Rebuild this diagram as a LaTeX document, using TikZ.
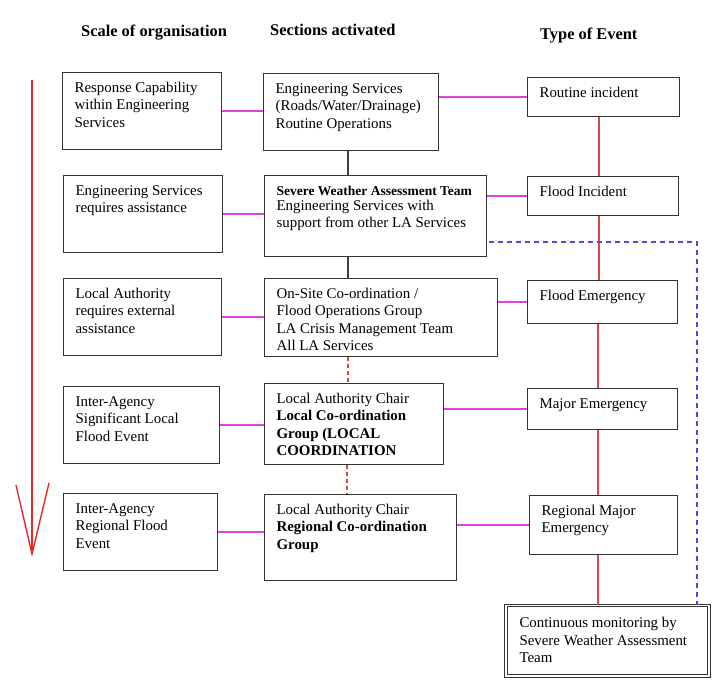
\documentclass[tikz,border=0pt]{standalone}
\usepackage{fontspec}
\setmainfont{Liberation Serif}
\begin{document}
% Box body: width #1, height #2, first baseline 19.5pt below the top, 12pt left padding
\newcommand\boxbody[3]{\parbox[c][#2][t]{#1}{\raggedright\leftskip=12pt\rule{0pt}{19.5pt}#3}}
\newcommand\bodyfont{\fontsize{14.9pt}{17.6pt}\selectfont}
\begin{tikzpicture}[x=1pt,y=-1pt,
  box/.style={draw=black!80,line width=1.2pt,rectangle,inner sep=0pt,anchor=north west,font=\bodyfont},
  dblbox/.style={draw=black!80,line width=1pt,double,double distance=1.5pt,rectangle,inner sep=0pt,anchor=north west,font=\bodyfont},
  heading/.style={anchor=base west,inner sep=0pt,font=\fontsize{16.4pt}{19pt}\selectfont\bfseries},
  magline/.style={draw={rgb,255:red,226;green,64;blue,226},line width=1.5pt},
  redline/.style={draw={rgb,255:red,222;green,70;blue,70},line width=1.5pt},
  reddash/.style={draw={rgb,255:red,222;green,70;blue,70},line width=1.5pt,dash pattern=on 4pt off 3pt},
  greyline/.style={draw=black!75,line width=1.5pt},
  bluedash/.style={draw={rgb,255:red,80;green,70;blue,215},line width=1.5pt,dash pattern=on 5pt off 4pt},
  scalearrow/.style={draw={rgb,255:red,235;green,40;blue,40},line width=1.4pt}]
\useasboundingbox (0,0) rectangle (728,699);

% column headings
\node[heading] (h1) at (81,36) {Scale of organisation};
\node[heading] (h2) at (270,35.3) {Sections activated};
\node[heading] (h3) at (540,39.3) {Type of Event};

% scale of organisation
\node[box] (L1) at (62,72)  {\boxbody{159pt}{77pt}{Response Capability\\within Engineering\\Services}};
\node[box] (L2) at (63,175) {\boxbody{159pt}{77pt}{Engineering Services\\requires assistance}};
\node[box] (L3) at (63,278) {\boxbody{158pt}{77pt}{Local Authority\\requires external\\assistance}};
\node[box] (L4) at (63,386) {\boxbody{156pt}{77pt}{Inter-Agency\\Significant Local\\Flood Event}};
\node[box] (L5) at (63,493) {\boxbody{154pt}{77pt}{Inter-Agency\\Regional Flood\\Event}};

% sections activated
\node[box] (M1) at (263,73)  {\boxbody{175pt}{77pt}{Engineering Services\\(Roads/Water/Drainage)\\Routine Operations}};
\node[box] (M2) at (264,175) {\boxbody{222pt}{81pt}{{\fontsize{13.5pt}{17.6pt}\selectfont\bfseries Severe Weather Assessment Team}\\[-2.5pt]Engineering Services with\\support from other LA Services}};
\node[box] (M3) at (264,278) {\boxbody{233pt}{78pt}{On-Site Co-ordination /\\Flood Operations Group\\LA Crisis Management Team\\All LA Services}};
\node[box] (M4) at (264,383) {\boxbody{179pt}{81pt}{Local Authority Chair\\\textbf{Local Co-ordination}\\\textbf{Group (LOCAL}\\\textbf{COORDINATION}}};
\node[box] (M5) at (264,494) {\boxbody{192pt}{86pt}{Local Authority Chair\\\textbf{Regional Co-ordination}\\\textbf{Group}}};

% type of event
\node[box] (R1) at (527,77)  {\boxbody{152pt}{39pt}{Routine incident}};
\node[box] (R2) at (527,176) {\boxbody{151pt}{39pt}{Flood Incident}};
\node[box] (R3) at (527,280) {\boxbody{150pt}{43pt}{Flood Emergency}};
\node[box] (R4) at (527,388) {\boxbody{150pt}{41pt}{Major Emergency}};
\node[box] (R5) at (529,495) {\boxbody{148pt}{59pt}{Regional Major\\Emergency}};
\node[dblbox] (R6) at (505.5,605) {\parbox[c][70.5pt][t]{203pt}{\raggedright\leftskip=13.5pt\rule{0pt}{22pt}Continuous monitoring by\\Severe Weather Assessment\\Team}};

% scale arrow
\coordinate (sTop) at (32,80);
\coordinate (sTip) at (32,554);
\coordinate (sL) at (16,485);
\coordinate (sR) at (49,483);
\draw[scalearrow] (sTop) -- (sTip);
\draw[scalearrow,line join=miter] (sL) -- (sTip) -- (sR);

% scale -> sections
\foreach \i in {1,...,5}
  \draw[magline] (L\i.east) -- (L\i.east -| M\i.west);
% sections -> type of event
\foreach \i in {1,...,5}
  \draw[magline] (R\i.west -| M\i.east) -- (R\i.west);

% links between sections
\coordinate (mx) at (348,0);
\draw[greyline] (M1.south -| mx) -- (M2.north -| mx);
\draw[greyline] (M2.south -| mx) -- (M3.north -| mx);
\draw[reddash] (M3.south -| mx) -- (M4.north -| mx);
\coordinate (mx2) at (347,0);
\draw[reddash] (M4.south -| mx2) -- (M5.north -| mx2);

% escalation chain of events
\coordinate (rx) at (599,0);
\coordinate (rx2) at (598,0);
\draw[redline] (R1.south -| rx) -- (R2.north -| rx);
\draw[redline] (R2.south -| rx) -- (R3.north -| rx);
\draw[redline] (R3.south -| rx2) -- (R4.north -| rx2);
\draw[redline] (R4.south -| rx2) -- (R5.north -| rx2);
\draw[redline] (R5.south -| rx2) -- (R6.north -| rx2);

% monitoring link
\coordinate (bc) at (697,242);
\draw[bluedash,shorten <=2pt] (bc -| M2.east) -- (bc) -- (bc |- R6.north);
\end{tikzpicture}
\end{document}
